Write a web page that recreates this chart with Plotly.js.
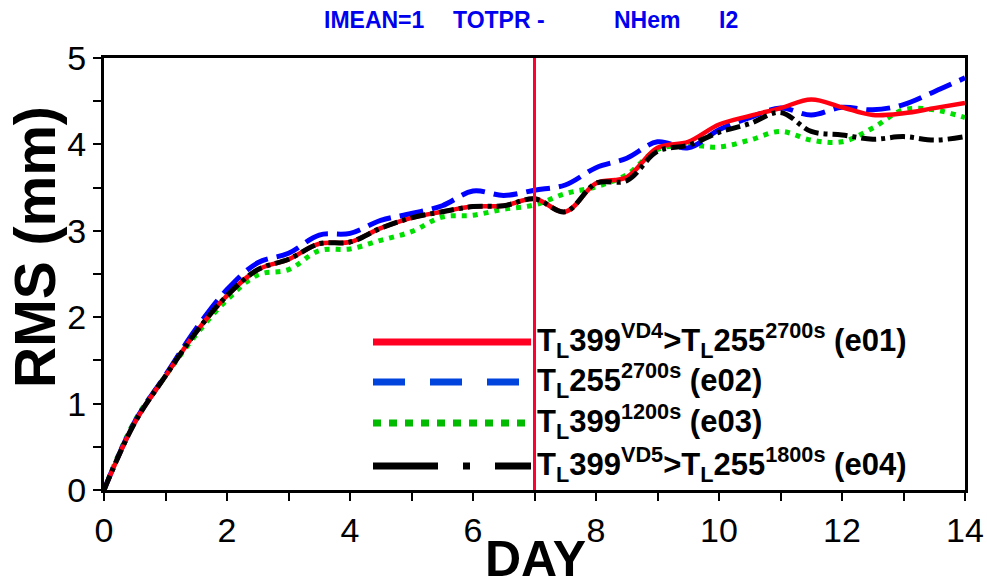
<!DOCTYPE html>
<html>
<head>
<meta charset="utf-8">
<script src="https://cdn.plot.ly/plotly-3.0.1.min.js"></script>
<style>html,body{margin:0;padding:0;background:#fff;}#chart{width:987px;height:586px;}</style>
</head>
<body>
<div id="chart"></div>
<script>
const days = [0,0.5,1,1.5,2,2.5,3,3.5,4,4.5,5,5.5,6,6.5,7,7.5,8,8.5,9,9.5,10,10.5,11,11.5,12,12.5,13,13.5,14];
const e01 = [0,0.78,1.32,1.83,2.25,2.55,2.67,2.85,2.87,3.03,3.15,3.22,3.28,3.29,3.37,3.22,3.55,3.62,3.96,4.03,4.23,4.33,4.42,4.52,4.43,4.34,4.36,4.42,4.48];
const e02 = [0,0.79,1.33,1.87,2.32,2.63,2.74,2.95,2.97,3.12,3.20,3.29,3.46,3.41,3.47,3.53,3.73,3.84,4.03,3.96,4.17,4.31,4.42,4.34,4.43,4.40,4.46,4.61,4.77];
const e03 = [0,0.80,1.32,1.80,2.20,2.49,2.55,2.77,2.79,2.89,2.99,3.16,3.18,3.25,3.30,3.43,3.51,3.65,3.94,3.99,3.97,4.05,4.15,4.05,4.03,4.19,4.40,4.40,4.31];
const e04 = [0,0.78,1.32,1.83,2.25,2.55,2.67,2.85,2.87,3.03,3.15,3.22,3.28,3.29,3.37,3.22,3.55,3.58,3.92,3.99,4.14,4.24,4.37,4.15,4.11,4.06,4.09,4.05,4.09];
const legendLabels = [
  "T<sub>L</sub>399<sup>VD4</sup>>T<sub>L</sub>255<sup>2700s</sup> (e01)",
  "T<sub>L</sub>255<sup>2700s</sup> (e02)",
  "T<sub>L</sub>399<sup>1200s</sup> (e03)",
  "T<sub>L</sub>399<sup>VD5</sup>>T<sub>L</sub>255<sup>1800s</sup> (e04)"
];
const titleParts = ["IMEAN=1", "TOTPR -", "NHem", "I2"];
const xTitle = "DAY";
const yTitle = "RMS (mm)";
const cutDay = 7;

// layout geometry (pixels)
const L = 104, R = 965, T = 58, B = 490;
const px = x => (x - L) / (R - L);
const py = y => (B - y) / (B - T);

const traces = [
  {x: days, y: e03, mode: 'lines', line: {color: '#00e000', width: 5, dash: '5px,6px', shape: 'spline', smoothing: 1}},
  {x: days, y: e02, mode: 'lines', line: {color: '#0000ff', width: 5, dash: '24px,9px', shape: 'spline', smoothing: 1}},
  {x: days, y: e01, mode: 'lines', line: {color: '#ff0010', width: 4.5, shape: 'spline', smoothing: 1}},
  {x: days, y: e04, mode: 'lines', line: {color: '#000000', width: 5, dash: '15px,5px,4px,5px', shape: 'spline', smoothing: 1}}
];

const legendStyles = [
  {color: '#ff0022', dash: 'solid'},
  {color: '#0044dd', dash: '32px,25px'},
  {color: '#00bb00', dash: '8px,8px'},
  {color: '#000000', dash: '65px,25px,7px,25px'}
];
const rowY = [342, 382, 423, 466];

const shapes = [
  {type: 'line', xref: 'x', yref: 'paper', x0: cutDay, x1: cutDay, y0: 0, y1: 1, line: {color: '#ff0033', width: 3}, layer: 'above'}
];
const bold = 'Liberation Sans, Arial, sans-serif';
const annotations = [];
legendStyles.forEach((s, i) => {
  shapes.push({type: 'line', xref: 'paper', yref: 'paper', x0: px(373), x1: px(531), y0: py(rowY[i]), y1: py(rowY[i]), line: {color: s.color, width: 7, dash: s.dash}});
  annotations.push({xref: 'paper', yref: 'paper', x: px(535), y: py(rowY[i] - 2), xanchor: 'left', yanchor: 'middle', showarrow: false,
    text: '<b>' + legendLabels[i] + '</b>', font: {family: bold, size: 31, color: '#000'}});
});
const titleX = [322, 451, 612, 717];
titleParts.forEach((t, i) => {
  annotations.push({xref: 'paper', yref: 'paper', x: px(titleX[i]), y: py(20), xanchor: 'left', yanchor: 'middle', showarrow: false,
    text: '<b>' + t + '</b>', font: {family: bold, size: 23, color: '#0000ee'}});
});
annotations.push({xref: 'paper', yref: 'paper', x: px(535), y: py(588), xanchor: 'center', yanchor: 'bottom', showarrow: false,
  borderpad: 0, text: '<b>' + xTitle + '</b>', font: {family: bold, size: 50, color: '#000'}});
annotations.push({xref: 'paper', yref: 'paper', x: px(35), y: py(247), xanchor: 'center', yanchor: 'middle', showarrow: false, textangle: -90,
  text: '<b>' + yTitle + '</b>', font: {family: bold, size: 57, color: '#000'}});

const tickFont = {family: 'Liberation Sans, Arial, sans-serif', size: 34, color: '#000'};
const layout = {
  width: 987, height: 586,
  margin: {l: L, r: 987 - R, t: T, b: 586 - B},
  paper_bgcolor: '#fff', plot_bgcolor: '#fff',
  showlegend: false,
  xaxis: {
    range: [0, 14], dtick: 2, tick0: 0, ticks: 'outside', ticklen: 8, tickwidth: 2, tickcolor: '#000',
    minor: {dtick: 1, ticks: 'outside', ticklen: 8, tickwidth: 2, tickcolor: '#000'},
    showline: true, linewidth: 3, linecolor: '#000', mirror: true,
    showgrid: false, zeroline: false, tickfont: tickFont
  },
  yaxis: {
    range: [0, 5], dtick: 1, tick0: 0, ticks: 'outside', ticklen: 8, tickwidth: 2, tickcolor: '#000',
    minor: {dtick: 0.5, ticks: 'outside', ticklen: 8, tickwidth: 2, tickcolor: '#000'},
    showline: true, linewidth: 3, linecolor: '#000', mirror: true,
    showgrid: false, zeroline: false, tickfont: tickFont
  },
  shapes: shapes,
  annotations: annotations
};

Plotly.newPlot('chart', traces, layout, {staticPlot: true, displayModeBar: false});
</script>
</body>
</html>
